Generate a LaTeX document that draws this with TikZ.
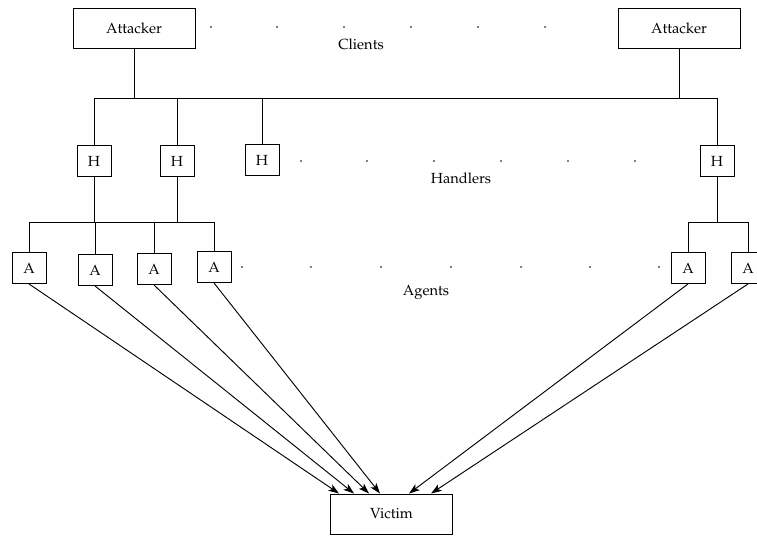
\documentclass[tikz,border=0pt]{standalone}
\usepackage[T1]{fontenc}
\usepackage{mathpazo}
\usetikzlibrary{arrows.meta,calc}

\tikzset{
  wire/.style={line width=0.7pt},
  bigbox/.style={draw, line width=0.7pt, minimum width=91.5pt, minimum height=30pt,
                 inner sep=0pt, font=\fontsize{11}{13}\selectfont},
  smallbox/.style={draw, line width=0.7pt, minimum width=25.5pt, minimum height=23.25pt,
                   inner sep=0pt, font=\fontsize{11}{13}\selectfont},
  tierlabel/.style={font=\fontsize{11}{13}\selectfont, inner sep=0pt},
  attack/.style={line width=0.7pt, -{Stealth[length=8pt,width=5.5pt,inset=2pt]}},
  gapdot/.style={fill=black},
}

\begin{document}
\begin{tikzpicture}[x=0.75pt, y=-0.75pt]
  \useasboundingbox (0,0) rectangle (757,537);

  % ---- clients ----
  \node[bigbox] (att1) at (134,28) {Attacker};
  \node[bigbox] (att2) at (679,28) {Attacker};
  \foreach \x in {211,277,344,411,478,545} \fill[gapdot] (\x,27) circle (0.8);
  \node[tierlabel] (clients) at (361,44) {Clients};

  % ---- handlers ----
  \node[smallbox] (h1) at (94,161) {H};
  \node[smallbox] (h2) at (177,161) {H};
  \node[smallbox] (h3) at (262,160) {H};
  \node[smallbox] (h4) at (717,161) {H};
  \foreach \x in {301,367,434,501,568,635} \fill[gapdot] (\x,161) circle (0.8);
  \node[tierlabel] (handlers) at (461,178) {Handlers};

  % ---- agents ----
  \node[smallbox] (a1) at (29,268) {A};
  \node[smallbox] (a2) at (95,270) {A};
  \node[smallbox] (a3) at (154,269) {A};
  \node[smallbox] (a4) at (214,267) {A};
  \node[smallbox] (a5) at (688,268) {A};
  \node[smallbox] (a6) at (748,268) {A};
  \foreach \x in {242,311,381,451,521,590,659} \fill[gapdot] (\x,267) circle (0.8);
  \node[tierlabel] (agents) at (426,292) {Agents};

  % ---- victim ----
  \node[bigbox] (victim) at (391.5,514) {Victim};

  % ---- client bus ----
  \coordinate (busL) at (94,98);
  \coordinate (busR) at (717,98);
  \draw[wire] (busL) -- (busR);
  \draw[wire] (att1.south) -- (att1.south |- busL);
  \draw[wire] (att2.south) -- (att2.south |- busL);
  \foreach \h in {h1,h2,h3,h4} \draw[wire] (\h.north) -- (\h.north |- busL);

  % ---- handler buses ----
  \coordinate (hbusL) at (30,222);
  \coordinate (hbusR) at (214,222);
  \draw[wire] (hbusL) -- (hbusR);
  \draw[wire] (h1.south) -- (h1.south |- hbusL);
  \draw[wire] (h2.south) -- (h2.south |- hbusL);
  \foreach \a in {a1,a2,a3,a4} \draw[wire] (\a.north) -- (\a.north |- hbusL);

  \coordinate (rbusL) at (688,222);
  \coordinate (rbusR) at (748,222);
  \draw[wire] (rbusL) -- (rbusR);
  \draw[wire] (h4.south) -- (h4.south |- rbusL);
  \foreach \a in {a5,a6} \draw[wire] (\a.north) -- (\a.north |- rbusL);

  % ---- attack flows ----
  \draw[attack] (a1.south) -- ($(victim.north west)+(9,0)$);
  \draw[attack] (a2.south) -- ($(victim.north west)+(24,0)$);
  \draw[attack] (a3.south) -- ($(victim.north west)+(39,0)$);
  \draw[attack] (a4.south) -- ($(victim.north west)+(50,0)$);
  \draw[attack] (a5.south) -- ($(victim.north west)+(79,0)$);
  \draw[attack] (a6.south) -- ($(victim.north west)+(101,0)$);
\end{tikzpicture}
\end{document}
